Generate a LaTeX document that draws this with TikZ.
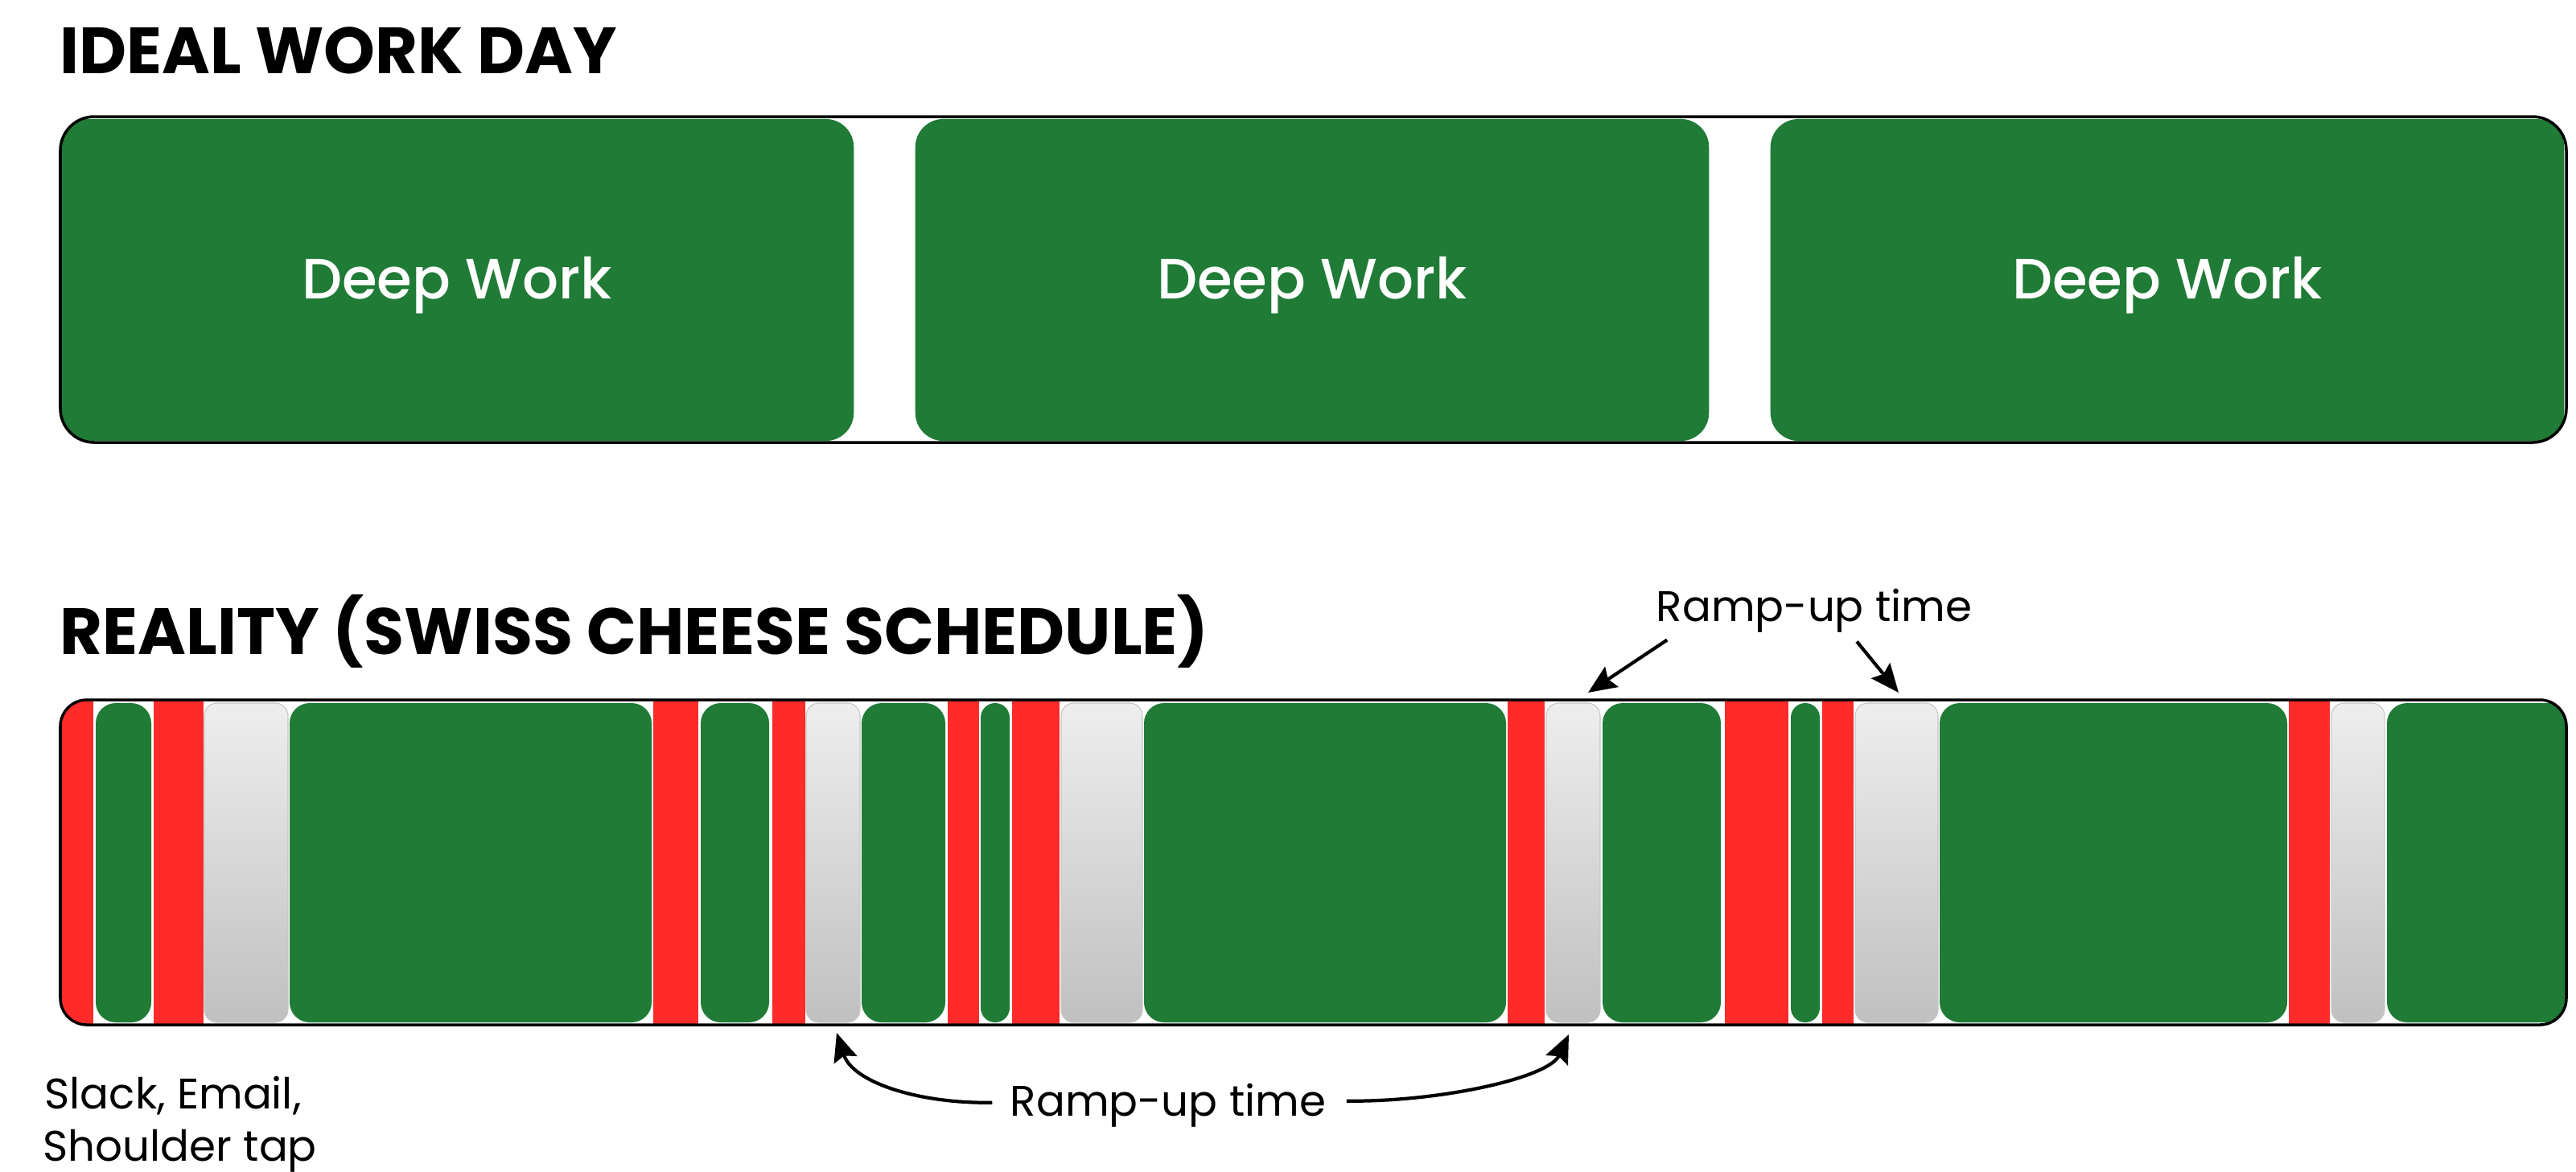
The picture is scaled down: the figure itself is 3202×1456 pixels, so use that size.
\documentclass[tikz,border=0pt]{standalone}
\usepackage{fontspec}
\setmainfont{Poppins}
\newfontfamily\pmed{Poppins Medium}
\usetikzlibrary{arrows.meta,calc}
\definecolor{dgreen}{RGB}{31,123,54}
\definecolor{ired}{RGB}{255,43,43}
\definecolor{gtop}{RGB}{238,238,238}
\definecolor{gbot}{RGB}{192,192,192}
\tikzset{
  headtxt/.style={font=\fontsize{23.1}{28}\selectfont\bfseries, inner sep=0, anchor=base west},
  lbltxt/.style={font=\fontsize{15.1}{18}\selectfont, inner sep=0},
  deepbox/.style={fill=dgreen, rounded corners=3.5mm, minimum width=9.86cm, minimum height=4cm,
    text=white, font=\pmed\fontsize{20.1}{24}\selectfont, inner sep=0, text height=18pt, text depth=4.5pt},
  framebox/.style={draw=black, line width=1pt},
  arrowln/.style={line width=1.2pt, -{Stealth[length=10pt,width=8.5pt,inset=1.5pt]}},
}
\begin{document}
\begin{tikzpicture}[x=0.01cm,y=-0.01cm]
\useasboundingbox (0,0) rectangle (3202,1456);
\fill[white] (0,0) rectangle (3202,1456);

% titles
\node[headtxt] (t1) at (74,91) {IDEAL WORK DAY};
\node[headtxt] (t2) at (74,813) {REALITY (SWISS CHEESE SCHEDULE)};

% ideal bar
\begin{scope}
  \clip[rounded corners=4.2mm] (75,145) rectangle (3190,550);
  \node[deepbox] (dw1) at (568,348) {Deep Work};
  \node[deepbox] (dw2) at (1631,348) {Deep Work};
  \node[deepbox] (dw3) at (2694,348) {Deep Work};
\end{scope}
\draw[framebox, rounded corners=4.2mm] (75,145) rectangle (3190,550);

% reality bar
\begin{scope}
  \clip[rounded corners=3.3mm] (75,870) rectangle (3190,1274);
  \foreach \a/\b in {60/116,191/253,812/868,960/1001,1178/1217,1258/1317,1874/1920,2144/2223,2265/2304,2845/2896}
    \fill[ired] (\a,868) rectangle (\b,1276);
  \foreach \a/\b in {119/188,360/810,871/956,1071/1175,1219/1255,1422/1872,1992/2139,2226/2262,2411/2843,2967/3210}{
    \pgfmathsetmacro\rr{min(25,(\b-\a)/2)*0.284528}
    \fill[dgreen, rounded corners=\rr pt] (\a,874) rectangle (\b,1271);
  }
  \foreach \a/\b in {254/358,1002/1069,1319/1420,1922/1989,2306/2409,2898/2964}
    \shadedraw[top color=gtop, bottom color=gbot, draw=gray!45, line width=0.3pt, rounded corners=4.5pt] (\a,874) rectangle (\b,1271);
\end{scope}
\draw[framebox, rounded corners=3.3mm] (75,870) rectangle (3190,1274);

% labels
\node[lbltxt, anchor=base] (ru1) at (2255,772) {Ramp-up time};
\node[lbltxt, anchor=base] (ru2) at (1452,1387) {Ramp-up time};
\node[lbltxt, anchor=base west] (sl1) at (55,1378) {Slack, Email,};
\node[lbltxt, anchor=base west] (sl2) at (53,1443) {Shoulder tap};

% arrow targets
\coordinate (gA) at (1974,861);
\coordinate (gB) at (2360,861);
\coordinate (gC) at (1040,1284);
\coordinate (gD) at (1950,1286);

\draw[arrowln] ($(ru1.south west)+(14,9)$) -- (gA);
\draw[arrowln] ($(ru1.south)+(53,11)$) -- (gB);
\draw[arrowln] ($(ru2.west)+(-22,-3)$) .. controls (1140,1372) and (1060,1345) .. (gC);
\draw[arrowln] ($(ru2.east)+(25,-5)$) .. controls (1790,1370) and (1925,1340) .. (gD);
\end{tikzpicture}
\end{document}
